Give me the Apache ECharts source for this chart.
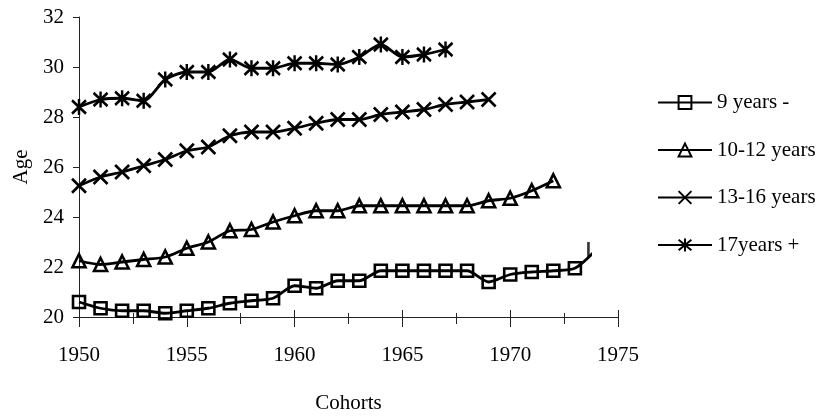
<!DOCTYPE html>
<html>
<head>
<meta charset="utf-8">
<script src="https://cdn.jsdelivr.net/npm/echarts@6/dist/echarts.min.js"></script>
<style>
  html, body { margin: 0; padding: 0; background: #fff; }
  #chart { width: 822px; height: 418px; }
</style>
</head>
<body>
<div id="chart"></div>
<script>
// Birth cohorts (x) and mean age per schooling group (y)
const cohorts = [1950, 1951, 1952, 1953, 1954, 1955, 1956, 1957, 1958, 1959,
                 1960, 1961, 1962, 1963, 1964, 1965, 1966, 1967, 1968, 1969,
                 1970, 1971, 1972, 1973, 1974];
const age9Minus = [20.6, 20.35, 20.25, 20.25, 20.15, 20.25, 20.35, 20.55, 20.65, 20.75,
                   21.25, 21.15, 21.45, 21.45, 21.85, 21.85, 21.85, 21.85, 21.85, 21.4,
                   21.7, 21.8, 21.85, 21.95, 22.7];
const age10to12 = [22.25, 22.1, 22.2, 22.3, 22.4, 22.75, 23.0, 23.45, 23.5, 23.8,
                   24.05, 24.25, 24.25, 24.45, 24.45, 24.45, 24.45, 24.45, 24.45, 24.65,
                   24.75, 25.05, 25.45];
const age13to16 = [25.25, 25.6, 25.8, 26.05, 26.3, 26.65, 26.8, 27.25, 27.4, 27.4,
                   27.55, 27.75, 27.9, 27.9, 28.1, 28.2, 28.3, 28.5, 28.6, 28.7];
const age17plus = [28.4, 28.7, 28.75, 28.65, 29.5, 29.8, 29.8, 30.3, 29.95, 29.95,
                   30.15, 30.15, 30.1, 30.4, 30.9, 30.4, 30.5, 30.7];
const seriesNames = ['9 years -', '10-12 years', '13-16 years', '17years +'];
const xRange = [1950, 1975];
const yRange = [20, 32];
// the first group's line is cut off just before its last cohort
const cutOffCohort = 1973.67;

const pairs = vals => vals.map((v, i) => [cohorts[i], v]);

const FONT = "'Liberation Serif', 'Times New Roman', serif";
const INK = '#000';
const AXIS = '#222';
const plot = { left: 79, top: 17, width: 539, height: 300 };
const clipWidth = plot.width * (cutOffCohort - xRange[0]) / (xRange[1] - xRange[0]);

const xMark = 'path://M0,0L10,10M10,0L0,10';
const starMark = 'path://M0,1L10,11M10,1L0,11M5,0L5,12';

function lineSeries(name, data, symbol, size, extra) {
  return Object.assign({
    name: name,
    type: 'line',
    data: data,
    smooth: 0.25,
    symbol: symbol,
    symbolSize: size,
    showAllSymbol: true,
    lineStyle: { color: INK, width: 2.8 },
    itemStyle: { color: 'none', borderColor: INK, borderWidth: 2.6 },
    emphasis: { disabled: true },
    z: 3
  }, extra || {});
}

const chart = echarts.init(document.getElementById('chart'), null, { renderer: 'canvas' });

const baseX = {
  type: 'value',
  position: 'bottom',
  offset: 0,
  min: xRange[0],
  max: xRange[1],
  interval: 5,
  splitLine: { show: false }
};

const gridBase = { top: plot.top, left: plot.left, height: plot.height,
                   containLabel: false, outerBoundsMode: 'none' };

chart.setOption({
  animation: false,
  backgroundColor: '#fff',
  textStyle: { fontFamily: FONT },
  grid: [
    Object.assign({}, gridBase, { width: plot.width }),
    Object.assign({}, gridBase, { width: clipWidth })
  ],
  xAxis: [
    Object.assign({}, baseX, {
      gridIndex: 0,
      name: 'Cohorts',
      nameLocation: 'middle',
      nameGap: 76,
      nameTextStyle: { color: INK, fontSize: 21, fontFamily: FONT },
      axisLine: { show: true, lineStyle: { color: AXIS, width: 1 } },
      axisTick: { show: true, inside: false, length: 10, lineStyle: { color: AXIS, width: 1 } },
      minorTick: { show: true, splitNumber: 2, length: 7, lineStyle: { color: AXIS, width: 1 } },
      axisLabel: { color: INK, fontSize: 21, fontFamily: FONT, margin: 28,
                   formatter: v => String(v) }
    }),
    Object.assign({}, baseX, {
      gridIndex: 0,
      axisLine: { show: false },
      axisTick: { show: true, inside: true, length: 7, lineStyle: { color: AXIS, width: 1 } },
      minorTick: { show: true, splitNumber: 2, length: 4, lineStyle: { color: AXIS, width: 1 } },
      axisLabel: { show: false }
    }),
    {
      type: 'value',
      gridIndex: 1,
      position: 'bottom',
      min: xRange[0],
      max: cutOffCohort,
      show: false,
      splitLine: { show: false }
    }
  ],
  yAxis: [
    {
      type: 'value',
      gridIndex: 0,
      position: 'left',
      min: yRange[0],
      max: yRange[1],
      interval: 2,
      name: 'Age',
      nameLocation: 'middle',
      nameGap: 47,
      nameTextStyle: { color: INK, fontSize: 21, fontFamily: FONT },
      axisLine: { show: true, lineStyle: { color: AXIS, width: 1 } },
      axisTick: { show: true, inside: false, length: 6, lineStyle: { color: AXIS, width: 1 } },
      axisLabel: { color: INK, fontSize: 21, fontFamily: FONT, margin: 15 },
      splitLine: { show: false }
    },
    {
      type: 'value',
      gridIndex: 1,
      position: 'left',
      min: yRange[0],
      max: yRange[1],
      show: false,
      splitLine: { show: false }
    }
  ],
  legend: {
    orient: 'vertical',
    left: 657,
    top: 92,
    padding: 0,
    itemWidth: 54,
    itemHeight: 16,
    itemGap: 26.5,
    selectedMode: false,
    data: seriesNames,
    textStyle: { color: INK, fontSize: 21, fontFamily: FONT }
  },
  series: [
    lineSeries(seriesNames[0], pairs(age9Minus), 'rect', 12,
      { xAxisIndex: 2, yAxisIndex: 1, clip: true }),
    lineSeries(seriesNames[1], pairs(age10to12), 'triangle', 13,
      { xAxisIndex: 0, yAxisIndex: 0 }),
    lineSeries(seriesNames[2], pairs(age13to16), xMark, 14,
      { xAxisIndex: 0, yAxisIndex: 0 }),
    lineSeries(seriesNames[3], pairs(age17plus), starMark, [14, 16],
      { xAxisIndex: 0, yAxisIndex: 0 }),
    {
      // left edge of the last, cut-off marker of the first group
      name: 'edge',
      type: 'scatter',
      xAxisIndex: 0,
      yAxisIndex: 0,
      data: [[cohorts[cohorts.length - 1], age9Minus[age9Minus.length - 1]]],
      symbol: 'rect',
      symbolSize: [2.6, 15],
      symbolOffset: [-8, 0],
      itemStyle: { color: INK },
      emphasis: { disabled: true },
      z: 3
    }
  ]
});
</script>
</body>
</html>
